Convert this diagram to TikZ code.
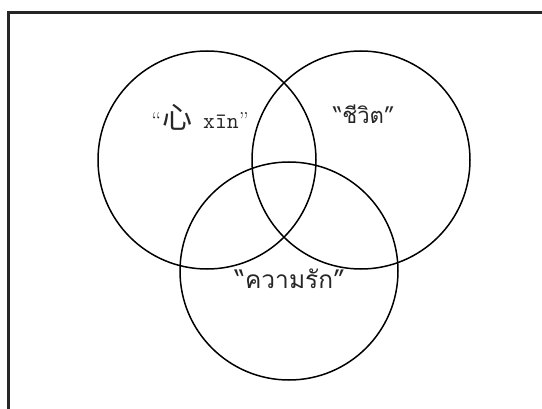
\documentclass[tikz,border=0pt]{standalone}
\usepackage{fontspec}
\newfontfamily\cjk{Noto Sans CJK SC}
\newfontfamily\thaifont[Script=Thai]{Loma}
\newfontfamily\monofont{Latin Modern Mono}
\newcommand\sizeA{\fontsize{23}{26}\selectfont}
\begin{document}
\begin{tikzpicture}[x=1pt,y=1pt,
  ring/.style={draw=black,line width=1.5pt,circle,minimum size=218pt,inner sep=0pt},
  lbl/.style={inner sep=0pt,anchor=base,text=black!85}]
\useasboundingbox (0,0) rectangle (542,408);
\begin{scope}
\clip (0,0) rectangle (542,408);
\draw[line width=2.2pt,draw=black!85] (8.5,395.5) rectangle (600,-50);
\end{scope}
\node[ring] (c1) at (207,248) {};
\node[ring] (c2) at (361,248) {};
\node[ring] (c3) at (289,137) {};
\node[lbl] (t1) at (200,279.5) {\sizeA“\hspace{1pt}{\cjk\fontsize{30}{32}\selectfont 心}\hspace{11pt}{\monofont\sizeA xīn}”};
\node[lbl] (t2) at (364,284) {\thaifont\fontsize{22}{24}\selectfont “ชีวิต”};
\node[lbl] (t3) at (290,120) {\thaifont\fontsize{24.5}{26}\selectfont “ความรัก”};
\end{tikzpicture}
\end{document}
